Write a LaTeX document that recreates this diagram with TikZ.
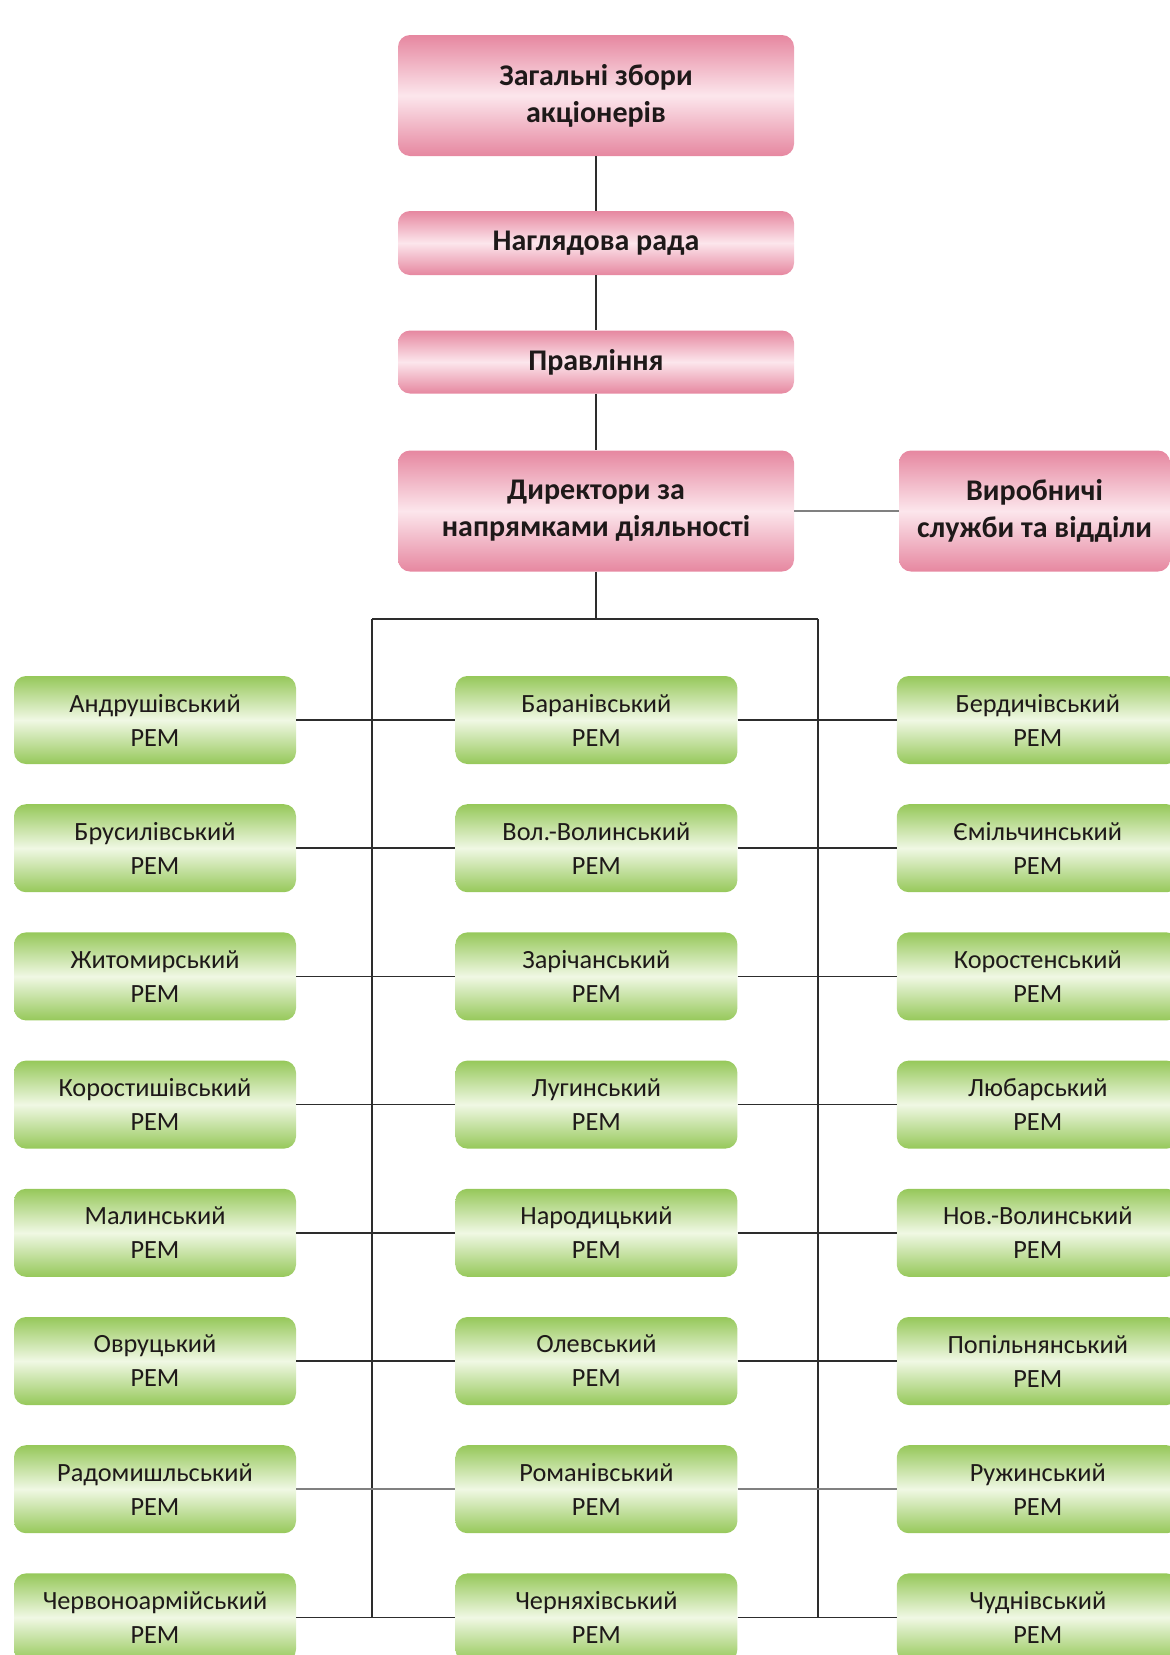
\documentclass[tikz,border=0pt]{standalone}
\usepackage{fontspec}
\setmainfont{Carlito}
\usetikzlibrary{positioning}
\definecolor{PinkEdge}{RGB}{230,135,160}
\definecolor{PinkMid}{RGB}{252,230,236}
\definecolor{GreenEdge}{RGB}{150,200,90}
\definecolor{GreenMid}{RGB}{240,248,228}
\definecolor{LineClr}{RGB}{45,45,45}
\definecolor{TextClr}{RGB}{30,25,25}

\tikzset{
  pinkbox/.style={rounded corners=12pt,top color=PinkEdge,bottom color=PinkEdge,
    middle color=PinkMid,minimum width=396pt,align=center,inner sep=0pt,
    font=\fontsize{30}{37}\selectfont\bfseries,text=TextClr},
  greenbox/.style={rounded corners=12pt,top color=GreenEdge,bottom color=GreenEdge,
    middle color=GreenMid,minimum width=282pt,minimum height=88pt,align=center,
    inner sep=0pt,font=\fontsize{26.3}{34}\selectfont,text=TextClr},
  link/.style={draw=LineClr,line width=1.6pt},
}

\begin{document}
\begin{tikzpicture}[x=1pt,y=-1pt]
\clip (0,0) rectangle (1170,1655);

% Management levels.
\node[pinkbox,minimum height=121pt] (zbory) at (596,95.5) {Загальні збори\\акціонерів};
\node[pinkbox,minimum height=64pt] (rada) at (596,243) {Наглядова рада};
\node[pinkbox,minimum height=63pt] (pravl) at (596,362) {Правління};
\node[pinkbox,minimum height=121pt] (dyr) at (596,511) {Директори за\\напрямками діяльності};
\node[pinkbox,minimum height=121pt,minimum width=271pt] (vyrob) at (1034.5,511) {Виробничі\\служби та відділи};

% District units, left column.
\node[greenbox] (l1) at (155,720) {Андрушівський\\РЕМ};
\node[greenbox,below=39.8pt of l1] (l2) {Брусилівський\\РЕМ};
\node[greenbox,below=39.8pt of l2] (l3) {Житомирський\\РЕМ};
\node[greenbox,below=39.8pt of l3] (l4) {Коростишівський\\РЕМ};
\node[greenbox,below=39.8pt of l4] (l5) {Малинський\\РЕМ};
\node[greenbox,below=39.8pt of l5] (l6) {Овруцький\\РЕМ};
\node[greenbox,below=39.8pt of l6] (l7) {Радомишльський\\РЕМ};
\node[greenbox,below=39.8pt of l7] (l8) {Червоноармійський\\РЕМ};

% Middle column.
\node[greenbox,right=159pt of l1] (m1) {Баранівський\\РЕМ};
\node[greenbox,right=159pt of l2] (m2) {Вол.-Волинський\\РЕМ};
\node[greenbox,right=159pt of l3] (m3) {Зарічанський\\РЕМ};
\node[greenbox,right=159pt of l4] (m4) {Лугинський\\РЕМ};
\node[greenbox,right=159pt of l5] (m5) {Народицький\\РЕМ};
\node[greenbox,right=159pt of l6] (m6) {Олевський\\РЕМ};
\node[greenbox,right=159pt of l7] (m7) {Романівський\\РЕМ};
\node[greenbox,right=159pt of l8] (m8) {Черняхівський\\РЕМ};

% Right column.
\node[greenbox,right=159pt of m1] (r1) {Бердичівський\\РЕМ};
\node[greenbox,right=159pt of m2] (r2) {Ємільчинський\\РЕМ};
\node[greenbox,right=159pt of m3] (r3) {Коростенський\\РЕМ};
\node[greenbox,right=159pt of m4] (r4) {Любарський\\РЕМ};
\node[greenbox,right=159pt of m5] (r5) {Нов.-Волинський\\РЕМ};
\node[greenbox,right=159pt of m6] (r6) {Попільнянський\\РЕМ};
\node[greenbox,right=159pt of m7] (r7) {Ружинський\\РЕМ};
\node[greenbox,right=159pt of m8] (r8) {Чуднівський\\РЕМ};

% Main chain.
\draw[link] (zbory) -- (rada);
\draw[link] (rada) -- (pravl);
\draw[link] (pravl) -- (dyr);
\draw[link,draw=gray] (dyr) -- (vyrob);

% Bus to the districts.
\coordinate (busL) at (372,619);
\coordinate (busR) at (818,619);
\draw[link] (dyr.south) -- (dyr.south |- busL);
\draw[link] (busL) -- (busR);
\draw[link] (busL) -- (busL |- l8.east);
\draw[link] (busR) -- (busR |- r8.west);

% Rows.
\draw[link] (l1) -- (m1); \draw[link] (m1) -- (r1);
\draw[link] (l2) -- (m2); \draw[link] (m2) -- (r2);
\draw[link] (l3) -- (m3); \draw[link] (m3) -- (r3);
\draw[link] (l4) -- (m4); \draw[link] (m4) -- (r4);
\draw[link] (l5) -- (m5); \draw[link] (m5) -- (r5);
\draw[link] (l6) -- (m6); \draw[link] (m6) -- (r6);
\draw[link,draw=gray] (l7) -- (m7); \draw[link,draw=gray] (m7) -- (r7);
\draw[link] (l8) -- (m8); \draw[link] (m8) -- (r8);

\end{tikzpicture}
\end{document}
